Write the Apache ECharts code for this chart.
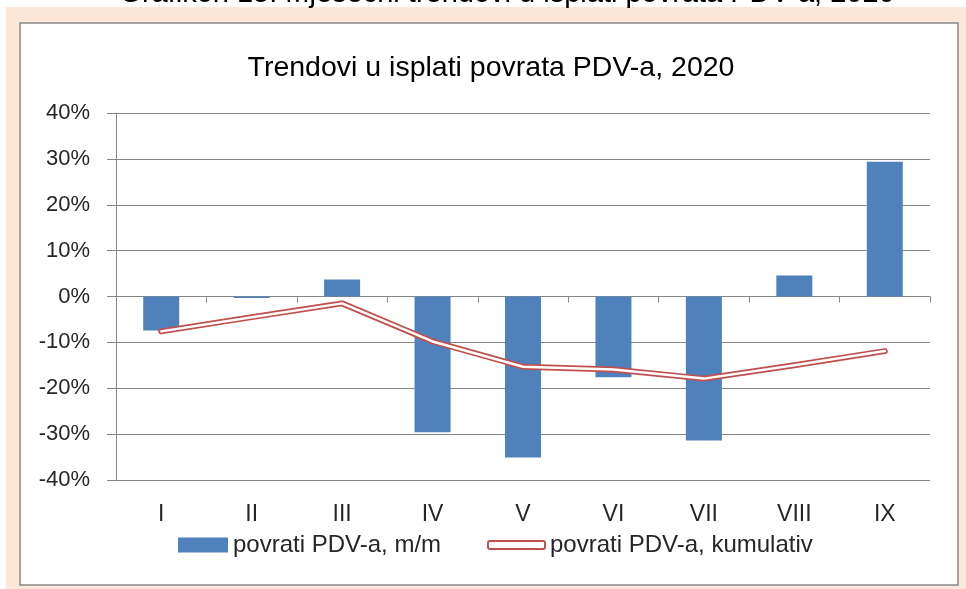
<!DOCTYPE html>
<html>
<head>
<meta charset="utf-8">
<script src="https://cdn.jsdelivr.net/npm/echarts@6/dist/echarts.min.js"></script>
<style>
  html, body { margin: 0; padding: 0; background: #fff; }
  #chart { width: 966px; height: 589px; }
</style>
</head>
<body>
<div id="chart"></div>
<script>
// months (roman numerals) and the two series, in percent
var months = ['I', 'II', 'III', 'IV', 'V', 'VI', 'VII', 'VIII', 'IX'];
var monthly = [-7.4, -0.3, 3.7, -29.6, -35.1, -17.6, -31.4, 4.6, 29.4];
var cumulative = [-7.6, -4.5, -1.5, -9.8, -15.3, -15.9, -17.9, -15.0, -11.9];

var FONT = '"Liberation Sans", Arial, sans-serif';
var TXT = '#262626';

var myChart = echarts.init(document.getElementById('chart'));

var option = {
  backgroundColor: '#fff',
  animation: false,
  graphic: [
    // peach frame
    { type: 'rect', silent: true, z: -10, shape: { x: 6, y: 7, width: 960, height: 582 },
      style: { fill: '#fce7d9' } },
    // white chart box
    { type: 'rect', silent: true, z: -9, shape: { x: 20, y: 23, width: 938, height: 562 },
      style: { fill: '#fff', stroke: '#8a8a8a', lineWidth: 1.5 } },
    // caption cut off at the top
    { type: 'text', silent: true, x: 507, y: 8,
      style: { text: 'Grafikon 15: Mjesečni trendovi u isplati povrata PDV-a, 2020',
        font: '29px ' + FONT, fill: '#000', align: 'center', verticalAlign: 'bottom' } }
  ],
  title: {
    text: 'Trendovi u isplati povrata PDV-a, 2020',
    left: 486, top: 49, textAlign: 'center',
    textStyle: { fontFamily: FONT, fontSize: 28.5, fontWeight: 'normal', color: '#000' }
  },
  legend: [
    { left: 178, top: 532, padding: 0, itemWidth: 50, itemHeight: 15, selectedMode: false,
      textStyle: { fontFamily: FONT, fontSize: 24, color: TXT, lineHeight: 26 },
      data: [{ name: 'povrati PDV-a, m/m', icon: 'rect' }] },
    { left: 487, top: 532, padding: 0, itemWidth: 57, itemHeight: 8, selectedMode: false,
      textStyle: { fontFamily: FONT, fontSize: 24, color: TXT, lineHeight: 26 },
      data: [{ name: 'povrati PDV-a, kumulativ', icon: 'roundRect',
        itemStyle: { color: '#fff', borderColor: '#c0504d', borderWidth: 2 } }] }
  ],
  grid: { left: 116, right: 36, top: 113, bottom: 109 },
  xAxis: [
    { type: 'category', data: months,
      axisLine: { show: false, onZero: false },
      axisTick: { show: false },
      axisLabel: { margin: 23, fontFamily: FONT, fontSize: 23, color: TXT } },
    { type: 'category', data: months, position: 'bottom',
      axisLine: { onZero: true, lineStyle: { color: '#868686', width: 1 } },
      axisTick: { show: true, length: 6, lineStyle: { color: '#868686' } },
      axisLabel: { show: false } }
  ],
  yAxis: {
    type: 'value', min: -40, max: 40, interval: 10,
    axisLine: { show: true, lineStyle: { color: '#868686' } },
    axisTick: { show: true, length: 9, lineStyle: { color: '#868686' } },
    splitLine: { lineStyle: { color: '#868686', width: 1 } },
    axisLabel: { formatter: '{value}%', margin: 26, fontFamily: FONT, fontSize: 22, color: TXT }
  },
  series: [
    { name: 'povrati PDV-a, m/m', type: 'bar', xAxisIndex: 0, data: monthly,
      barWidth: 36, itemStyle: { color: '#4f81bd' }, z: 2 },
    { name: 'povrati PDV-a, kumulativ', type: 'line', xAxisIndex: 0, data: cumulative,
      symbol: 'none', z: 3,
      lineStyle: { color: '#c0504d', width: 6, cap: 'round', join: 'round' } },
    { name: 'kumulativ-inner', type: 'line', xAxisIndex: 0, data: cumulative,
      symbol: 'none', z: 4,
      lineStyle: { color: '#fff', width: 2.5, cap: 'round', join: 'round' } }
  ]
};

myChart.setOption(option);
</script>
</body>
</html>
